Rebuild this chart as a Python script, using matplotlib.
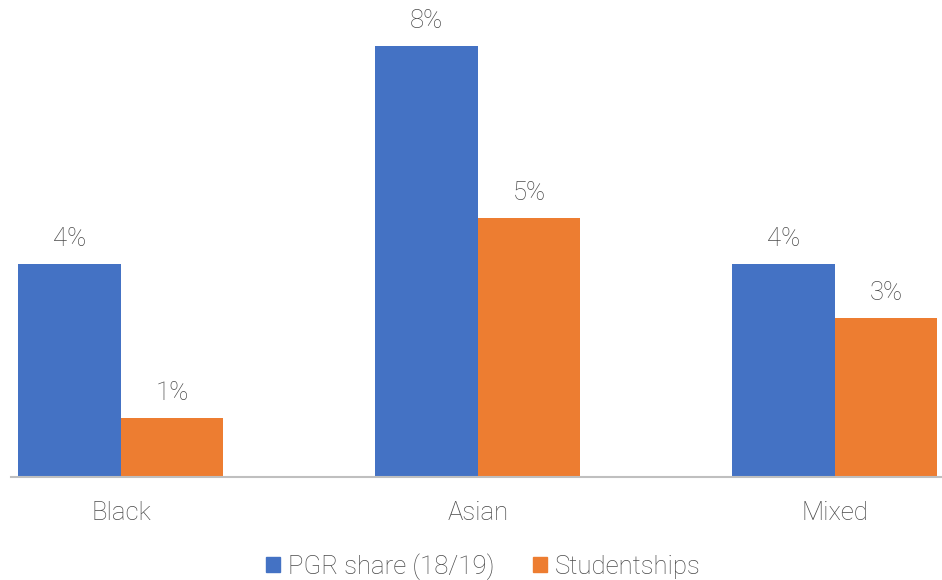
import numpy as np
import matplotlib
matplotlib.use("Agg")
import matplotlib.pyplot as plt
from matplotlib.patches import Patch

categories = ["Black", "Asian", "Mixed"]
pgr_share = [0.0395, 0.080, 0.0395]
studentships = [0.0109, 0.048, 0.0295]
series_names = ["PGR share (18/19)", "Studentships"]

BLUE = "#4472C4"
ORANGE = "#ED7D31"
GREY = "#4A4A4A"
FS = 18.5

plt.rcParams["font.family"] = ["Roboto", "DejaVu Sans"]
plt.rcParams["font.weight"] = "light"

W, H = 942, 580
fig = plt.figure(figsize=(W / 100, H / 100), dpi=100)
ax = fig.add_axes([11 / W, 103.5 / H, (W - 11) / W, 473.5 / H])

x = np.arange(len(categories))
width = 0.287
b1 = ax.bar(x - width / 2, pgr_share, width, color=BLUE)
b2 = ax.bar(x + width / 2, studentships, width, color=ORANGE)

for bars in (b1, b2):
    for rect in bars:
        v = rect.get_height()
        ax.annotate(f"{v * 100:.0f}%", xy=(rect.get_x() + rect.get_width() / 2, v),
                    xytext=(0, 9.5), textcoords="offset points",
                    ha="center", va="bottom", fontsize=FS, color=GREY,
                    fontweight="light")

ax.set_xlim(-0.308, 2.30)
ax.set_ylim(0, 0.088)
ax.set_xticks(x)
ax.set_xticklabels(categories, fontsize=FS, color=GREY, fontweight="light")
ax.tick_params(axis="x", length=0, pad=18)
ax.set_yticks([])
for s in ["top", "right", "left"]:
    ax.spines[s].set_visible(False)
ax.spines["bottom"].set_color("#BFBFBF")
ax.spines["bottom"].set_linewidth(1.5)

handles = [Patch(color=BLUE), Patch(color=ORANGE)]
fig.legend(handles, series_names, loc="center", bbox_to_anchor=(483 / W, 1 - 566.5 / H),
           ncol=2, frameon=False, handlelength=0.55, handleheight=0.55,
           handletextpad=0.3, columnspacing=1.5, labelcolor=GREY,
           borderpad=0, prop={"weight": "light", "size": FS})

fig.savefig("out.png", dpi=100)
